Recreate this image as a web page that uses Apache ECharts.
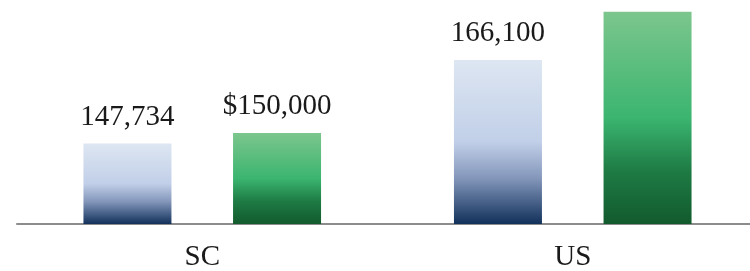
<!DOCTYPE html>
<html>
<head>
<meta charset="utf-8">
<script src="https://cdn.jsdelivr.net/npm/echarts@6/dist/echarts.min.js"></script>
<style>
  html, body { margin: 0; padding: 0; background: #fff; }
  #chart { width: 750px; height: 271px; }
</style>
</head>
<body>
<div id="chart"></div>
<script>
  // data
  const categories = ['SC', 'US']
  const blueValues = [147734, 166100]
  const greenValues = [150000, 176700]
  const blueLabels = ['147,734', '166,100']
  const greenLabels = ['$150,000', '']

  const chart = echarts.init(document.getElementById('chart'))

  const labelStyle = {
    show: true,
    position: 'top',
    distance: 12,
    color: '#1a1a1a',
    fontFamily: '"Liberation Serif", "DejaVu Serif", serif',
    fontSize: 29
  }

  const option = {
    animation: false,
    grid: {
      left: 17,
      width: 741,
      top: 0,
      bottom: 47,
      outerBoundsMode: 'none'
    },
    xAxis: {
      type: 'category',
      data: categories,
      axisLine: {
        show: true,
        lineStyle: { color: '#8c8c8c', width: 2 }
      },
      axisTick: { show: false },
      axisLabel: {
        margin: 19,
        color: '#1a1a1a',
        fontFamily: '"Liberation Serif", "DejaVu Serif", serif',
        fontSize: 29
      }
    },
    yAxis: {
      type: 'value',
      min: 130000,
      max: 179280,
      show: false,
      splitLine: { show: false }
    },
    series: [{
      name: 'blue',
      type: 'bar',
      barWidth: 88,
      barGap: '70%',
      data: blueValues,
      label: Object.assign({}, labelStyle, {
        formatter: (p) => blueLabels[p.dataIndex]
      }),
      itemStyle: {
        color: new echarts.graphic.LinearGradient(0, 0, 0, 1, [
          { offset: 0, color: '#dde6f2' },
          { offset: 0.5, color: '#c1cfe8' },
          { offset: 0.72, color: '#8497bb' },
          { offset: 1, color: '#11305a' }
        ])
      }
    }, {
      name: 'green',
      type: 'bar',
      barWidth: 88,
      data: greenValues,
      label: Object.assign({}, labelStyle, {
        formatter: (p) => greenLabels[p.dataIndex]
      }),
      itemStyle: {
        color: new echarts.graphic.LinearGradient(0, 0, 0, 1, [
          { offset: 0, color: '#7cc68d' },
          { offset: 0.5, color: '#3bb570' },
          { offset: 0.75, color: '#1e7b44' },
          { offset: 1, color: '#125a2d' }
        ])
      }
    }]
  }
  chart.setOption(option)
</script>
</body>
</html>
